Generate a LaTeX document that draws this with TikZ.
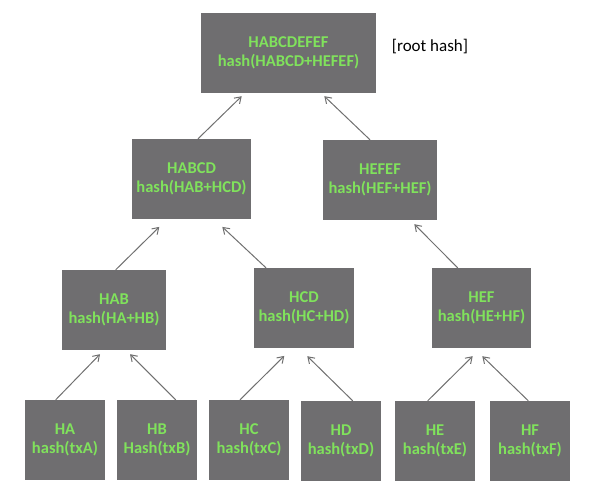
\documentclass[tikz,border=0pt]{standalone}
\usepackage{fontspec}
\setmainfont{Carlito}
\usetikzlibrary{arrows.meta}
\definecolor{boxgray}{RGB}{111,110,112}
\definecolor{txtgreen}{RGB}{128,226,92}
\definecolor{arrgray}{RGB}{112,112,112}
\tikzset{
  hbox/.style={fill=boxgray, draw=none, inner sep=0pt, align=center,
    text=txtgreen, font=\fontsize{16.5}{18.5}\selectfont\bfseries},
  arr/.style={draw=arrgray, line width=1pt, -{Straight Barb[length=6pt,width=8pt,line width=1pt]}}
}
\begin{document}
\begin{tikzpicture}[x=1pt,y=-1pt]
\useasboundingbox (0,0) rectangle (600,500);
\node[hbox, minimum width=175pt, minimum height=80pt] (root) at (288.5,53) {HABCDEFEF\\hash(HABCD+HEFEF)};
\node[hbox, minimum width=119pt, minimum height=80pt] (habcd) at (191.5,179) {HABCD\\hash(HAB+HCD)};
\node[hbox, minimum width=114pt, minimum height=80pt] (hefef) at (380,180) {HEFEF\\hash(HEF+HEF)};
\node[hbox, minimum width=104pt, minimum height=80pt] (hab) at (114,310) {HAB\\hash(HA+HB)};
\node[hbox, minimum width=100pt, minimum height=80pt] (hcd) at (304,308) {HCD\\hash(HC+HD)};
\node[hbox, minimum width=99pt, minimum height=80pt] (hef) at (481.5,308) {HEF\\hash(HE+HF)};
\node[hbox, minimum width=80pt, minimum height=80pt] (ha) at (65,440) {HA\\hash(txA)};
\node[hbox, minimum width=80pt, minimum height=80pt] (hb) at (157,440) {HB\\Hash(txB)};
\node[hbox, minimum width=80pt, minimum height=80pt] (hc) at (249,440) {HC\\hash(txC)};
\node[hbox, minimum width=80pt, minimum height=80pt] (hd) at (341,441) {HD\\hash(txD)};
\node[hbox, minimum width=80pt, minimum height=80pt] (he) at (435,441) {HE\\hash(txE)};
\node[hbox, minimum width=80pt, minimum height=80pt] (hf) at (530,441) {HF\\hash(txF)};
\node[font=\fontsize{17}{19}\selectfont, text=black, inner sep=0pt] (lbl) at (430,47) {[root hash]};
% arrows
\draw[arr] ([xshift=-9.3pt]ha.north) -- ([xshift=-14pt,yshift=-4pt]hab.south);
\draw[arr] ([xshift=18.7pt]hb.north) -- ([xshift=16pt,yshift=-4pt]hab.south);
\draw[arr] ([xshift=-9pt]hc.north) -- ([xshift=-19.7pt,yshift=-7.7pt]hcd.south);
\draw[arr] ([xshift=11.7pt]hd.north) -- ([xshift=3.3pt,yshift=-8pt]hcd.south);
\draw[arr] ([xshift=-7.3pt]he.north) -- ([xshift=-8.8pt,yshift=-8pt]hef.south);
\draw[arr] ([xshift=-1.7pt]hf.north) -- ([xshift=0.8pt,yshift=-8pt]hef.south);
\draw[arr] ([xshift=1.7pt]hab.north) -- ([xshift=-32.2pt,yshift=-7.7pt]habcd.south);
\draw[arr] ([xshift=-38pt]hcd.north) -- ([xshift=30.8pt,yshift=-7.7pt]habcd.south);
\draw[arr] ([xshift=-23.8pt]hef.north) -- ([xshift=34.3pt,yshift=-4pt]hefef.south);
\draw[arr] ([xshift=6.5pt]habcd.north) -- ([xshift=-46.8pt,yshift=-3pt]root.south);
\draw[arr] ([xshift=-10pt]hefef.north) -- ([xshift=35.8pt,yshift=-3pt]root.south);
\end{tikzpicture}
\end{document}
